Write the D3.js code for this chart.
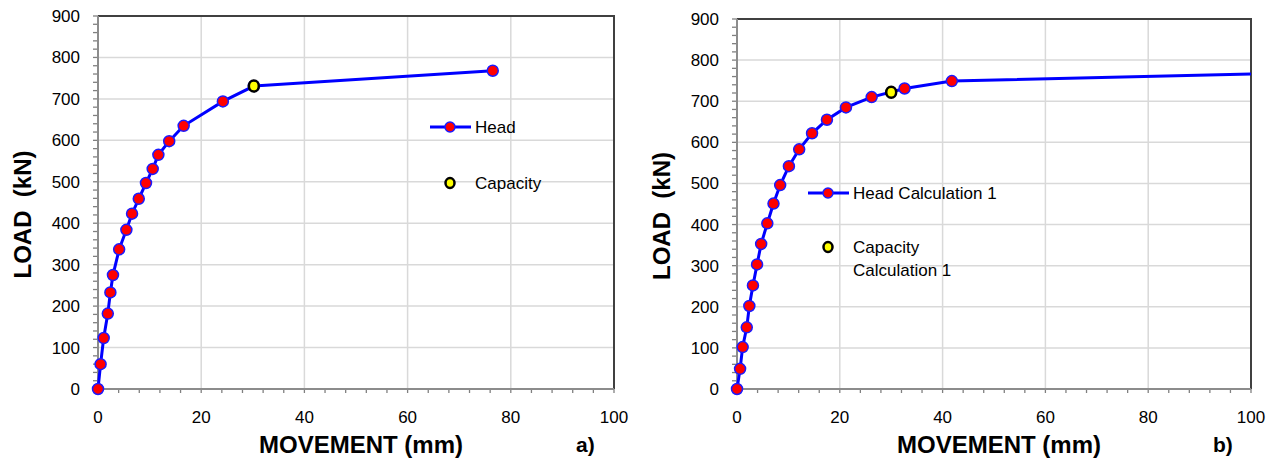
<!DOCTYPE html>
<html>
<head>
<meta charset="utf-8">
<title>load movement</title>
<script src="https://d3js.org/d3.v7.min.js"></script>
<style>
  html, body { margin: 0; padding: 0; background: #fff; }
  svg { font-family: 'Liberation Sans', Arial, sans-serif; }
</style>
</head>
<body>
<svg id="chart" width="1275" height="459"></svg>
<script>
// chart a) head curve
const headA_mov  = [0, 0.5, 1.1, 1.9, 2.4, 2.9, 4.1, 5.5, 6.6, 7.9, 9.3, 10.6, 11.7, 13.8, 16.6, 24.2, 30.2, 76.5]
const headA_load = [0, 60, 123, 182, 233, 275, 337, 384, 423, 459, 497, 531, 565, 598, 635, 694, 731, 768]
const capA = [30.2, 731]

// chart b) head calculation 1 (last point lies past the axis end)
const headB_mov  = [0, 0.6, 1.1, 1.9, 2.4, 3.1, 3.9, 4.7, 5.9, 7.1, 8.4, 10.1, 12.1, 14.6, 17.5, 21.2, 26.2, 32.6, 41.8, 120]
const headB_load = [0, 49, 102, 150, 202, 252, 303, 353, 403, 451, 496, 542, 583, 622, 655, 685, 710, 731, 749, 772]
const capB = [30.0, 722]

const xTicks = [0, 20, 40, 60, 80, 100]
const yTicks = [0, 100, 200, 300, 400, 500, 600, 700, 800, 900]

const svg = d3.select('#chart')

function drawChart(opt) {
  const x = d3.scaleLinear().domain([0, 100]).range([opt.left, opt.right])
  const y = d3.scaleLinear().domain([0, 900]).range([opt.bottom, opt.top])
  const g = svg.append('g')

  // grid
  g.selectAll('.gx').data(xTicks.slice(1, -1)).enter().append('line')
    .attr('x1', d => x(d)).attr('x2', d => x(d))
    .attr('y1', opt.top).attr('y2', opt.bottom)
    .attr('stroke', '#d9d9d9').attr('stroke-width', 1.5)
  g.selectAll('.gy').data(yTicks.slice(1, -1)).enter().append('line')
    .attr('x1', opt.left).attr('x2', opt.right)
    .attr('y1', d => y(d)).attr('y2', d => y(d))
    .attr('stroke', '#d9d9d9').attr('stroke-width', 1.5)

  // minor ticks
  g.selectAll('.ty').data(d3.range(0, 901, 20)).enter().append('line')
    .attr('x1', opt.left - 5).attr('x2', opt.left)
    .attr('y1', d => y(d)).attr('y2', d => y(d))
    .attr('stroke', '#808080').attr('stroke-width', 1.3)
  g.selectAll('.tx').data(d3.range(0, 101, 4)).enter().append('line')
    .attr('x1', d => x(d)).attr('x2', d => x(d))
    .attr('y1', opt.bottom).attr('y2', opt.bottom + 4)
    .attr('stroke', '#808080').attr('stroke-width', 1.3)

  // frame
  g.append('path')
    .attr('d', `M${opt.left},${opt.top}H${opt.right}V${opt.bottom}`)
    .attr('fill', 'none').attr('stroke', '#404040').attr('stroke-width', 2)
  g.append('path')
    .attr('d', `M${opt.left},${opt.top}V${opt.bottom}H${opt.right}`)
    .attr('fill', 'none').attr('stroke', '#8c8c8c').attr('stroke-width', 2)

  // tick labels
  g.selectAll('.ly').data(yTicks).enter().append('text')
    .attr('x', opt.left - 18).attr('y', d => y(d) + 6)
    .attr('text-anchor', 'end').attr('font-size', 17)
    .text(d => d)
  g.selectAll('.lx').data(xTicks).enter().append('text')
    .attr('x', d => x(d)).attr('y', opt.bottom + 34)
    .attr('text-anchor', 'middle').attr('font-size', 17)
    .text(d => d)

  // axis titles
  g.append('text')
    .attr('transform', `translate(${opt.left - 67},${(opt.top + opt.bottom) / 2 + 12}) rotate(-90)`)
    .attr('text-anchor', 'middle').attr('font-size', 24).attr('font-weight', 'bold')
    .attr('xml:space', 'preserve')
    .text('LOAD  (kN)')
  g.append('text')
    .attr('x', (opt.left + opt.right) / 2 + 5).attr('y', opt.bottom + 64)
    .attr('text-anchor', 'middle').attr('font-size', 24).attr('font-weight', 'bold')
    .text('MOVEMENT (mm)')
  g.append('text')
    .attr('x', opt.right - 38).attr('y', opt.bottom + 63)
    .attr('font-size', 21).attr('font-weight', 'bold')
    .text(opt.tag)

  // series
  const clipId = 'clip' + opt.tag.replace(')', '')
  svg.append('clipPath').attr('id', clipId).append('rect')
    .attr('x', opt.left - 8).attr('y', opt.top - 8)
    .attr('width', opt.right - opt.left + 8).attr('height', opt.bottom - opt.top + 16)
  const pts = opt.mov.map((m, i) => [m, opt.load[i]])
  const body = g.append('g').attr('clip-path', `url(#${clipId})`)
  body.append('path')
    .datum(pts)
    .attr('d', d3.line().x(d => x(d[0])).y(d => y(d[1])))
    .attr('fill', 'none').attr('stroke', '#0000ff').attr('stroke-width', 3)
  body.selectAll('.pt').data(pts.filter(d => d[0] <= 100)).enter().append('circle')
    .attr('cx', d => x(d[0])).attr('cy', d => y(d[1])).attr('r', 5.5)
    .attr('fill', '#ff0000').attr('stroke', '#1a1aff').attr('stroke-width', 1.5)
  body.append('ellipse')
    .attr('cx', x(opt.cap[0])).attr('cy', y(opt.cap[1])).attr('rx', 5).attr('ry', 5.5)
    .attr('fill', '#ffff00').attr('stroke', '#000').attr('stroke-width', 2.5)

  // legend
  const L = opt.legend
  g.append('line')
    .attr('x1', L.x - 20).attr('x2', L.x + 21).attr('y1', L.y1).attr('y2', L.y1)
    .attr('stroke', '#0000ff').attr('stroke-width', 3)
  g.append('circle')
    .attr('cx', L.x).attr('cy', L.y1).attr('r', 5)
    .attr('fill', '#ff0000').attr('stroke', '#1a1aff').attr('stroke-width', 1.5)
  g.append('text')
    .attr('x', L.x + 25).attr('y', L.y1 + 6).attr('font-size', 17)
    .text(L.name1)
  g.append('ellipse')
    .attr('cx', L.x).attr('cy', L.y2).attr('rx', 4.5).attr('ry', 5)
    .attr('fill', '#ffff00').attr('stroke', '#000').attr('stroke-width', 2.5)
  L.name2.forEach((t, i) => {
    g.append('text')
      .attr('x', L.x + 25).attr('y', L.y2 + 6 + i * 23).attr('font-size', 17)
      .text(t)
  })
}

drawChart({
  left: 98, right: 614, top: 16, bottom: 389,
  mov: headA_mov, load: headA_load, cap: capA, tag: 'a)',
  legend: { x: 450, y1: 127, y2: 183, name1: 'Head', name2: ['Capacity'] }
})

drawChart({
  left: 737, right: 1251, top: 19, bottom: 389,
  mov: headB_mov, load: headB_load, cap: capB, tag: 'b)',
  legend: { x: 828, y1: 193, y2: 247, name1: 'Head Calculation 1', name2: ['Capacity', 'Calculation 1'] }
})
</script>
</body>
</html>
